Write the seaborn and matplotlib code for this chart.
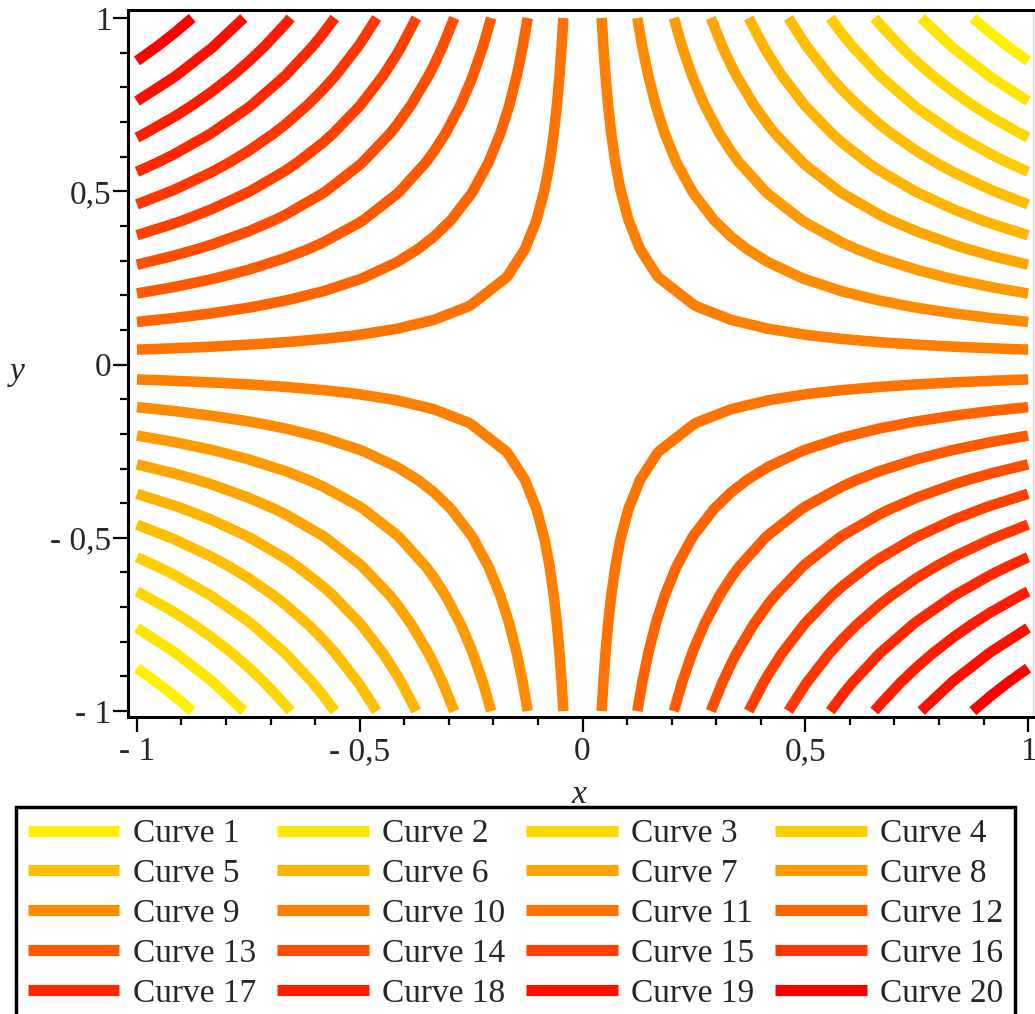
import numpy as np
import pandas as pd
import seaborn as sns
from matplotlib import pyplot as plt
from matplotlib.lines import Line2D

# contour levels of f(x, y) = x*y (curve 1 .. curve 20)
levels = [0.876, 0.760, 0.655, 0.556, 0.462, 0.373, 0.288, 0.205, 0.123, 0.043,
          -0.043, -0.123, -0.205, -0.288, -0.373, -0.462, -0.556, -0.655, -0.760, -0.876]
curve_names = [f"Curve {i + 1}" for i in range(len(levels))]
# green channel of each curve colour (red is always full, blue zero)
green = [242, 230, 215, 205, 190, 180, 165, 155, 140, 127,
         115, 100, 90, 78, 65, 55, 40, 28, 15, 0]
tick_vals = [-1, -0.5, 0, 0.5, 1]
tick_labels = ["- 1", "- 0,5", "0", "0,5", "1"]

# maple style grid: 25 points on [-1, 1]
grid = np.linspace(-1, 1, 25)


def branch(c, sx, sy):
    """vertices of the level curve x*y=c in one quadrant, where it crosses grid lines"""
    a = abs(c)
    xs = [g for g in np.abs(grid) if a <= g <= 1]
    xs += [a / g for g in np.abs(grid) if a <= g <= 1]
    xs = np.unique(np.round(xs, 10))
    return sx * xs, sy * a / xs


rows = []
for name, c in zip(curve_names, levels):
    quads = [(1, 1), (-1, -1)] if c > 0 else [(-1, 1), (1, -1)]
    for q, (sx, sy) in enumerate(quads):
        bx, by = branch(c, sx, sy)
        for xv, yv in zip(bx, by):
            rows.append({"x": xv, "y": yv, "curve": name, "seg": f"{name}-{q}"})
df = pd.DataFrame(rows)

palette = {n: (1.0, g / 255, 0.0) for n, g in zip(curve_names, green)}

sns.set_style("white")
plt.rcParams["font.family"] = ["Liberation Serif", "DejaVu Serif"]

fig = plt.figure(figsize=(10.35, 10.14), dpi=100)
ax = fig.add_axes([128 / 1035, 1 - 717 / 1014, 905 / 1035, 707 / 1014])

sns.lineplot(data=df, x="x", y="y", hue="curve", units="seg", estimator=None,
             palette=palette, linewidth=7.6, legend=False, ax=ax,
             solid_capstyle="butt")

ax.set_xlim(-1.02, 1.011)
ax.set_ylim(-1.017, 1.023)
ax.set_xticks(tick_vals)
ax.set_xticklabels(tick_labels)
ax.set_yticks(tick_vals)
ax.set_yticklabels(tick_labels)
ax.set_xticks(np.arange(-1, 1.01, 0.1), minor=True)
ax.set_yticks(np.arange(-1, 1.01, 0.1), minor=True)
ax.tick_params(which="major", length=11, width=1.6, labelsize=24, direction="out",
               color="black", bottom=True, left=True)
ax.tick_params(which="minor", length=5.5, width=1.6, direction="out",
               color="black", bottom=True, left=True)
ax.tick_params(axis="y", pad=1)
ax.tick_params(axis="x", pad=3)
ax.set_xlabel("")
ax.set_ylabel("")
for side in ["left", "bottom", "top"]:
    ax.spines[side].set_color("black")
    ax.spines[side].set_linewidth(2.2)
ax.spines["right"].set_color("#d8d8d8")
ax.spines["right"].set_linewidth(1)

fig.text(579 / 1035, 1 - 795 / 1014, "x", style="italic", fontsize=24,
         ha="center", va="center")
fig.text(17 / 1035, 1 - 372 / 1014, "y", style="italic", fontsize=24,
         ha="center", va="center")

# legend filled row by row like the original
handles = {n: Line2D([0], [0], color=palette[n], linewidth=8, solid_capstyle="butt")
           for n in curve_names}
order = [curve_names[r * 4 + col] for col in range(4) for r in range(5)]
leg = fig.legend([handles[n] for n in order], order, loc="upper left",
                 bbox_to_anchor=(16 / 1035, 0, 999 / 1035, 1 - 807 / 1014),
                 mode="expand", ncol=4, fontsize=24, frameon=True,
                 fancybox=False, framealpha=1, edgecolor="black",
                 handlelength=2.75, handletextpad=0.4, labelspacing=0.28,
                 borderpad=0.35, borderaxespad=0, columnspacing=0.5)
leg.get_frame().set_linewidth(2.5)

fig.savefig("out.png", dpi=100)
